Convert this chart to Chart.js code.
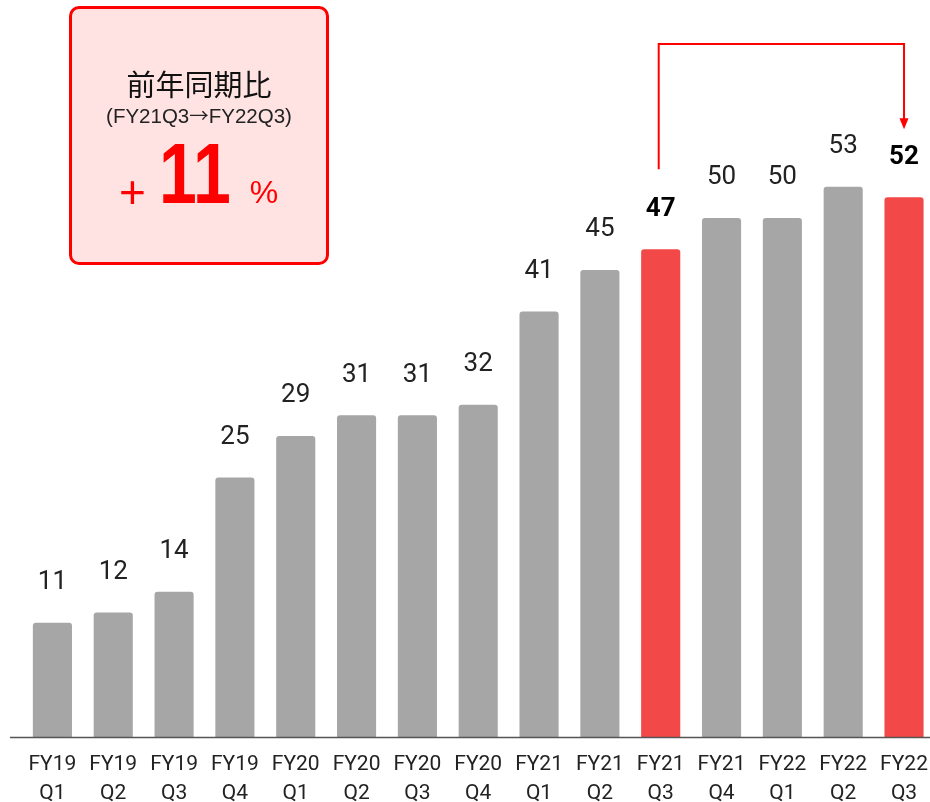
<!DOCTYPE html>
<html>
<head>
<meta charset="utf-8">
<script src="https://cdn.jsdelivr.net/npm/chart.js@4.4.0/dist/chart.umd.min.js"></script>
<style>
  html, body { margin: 0; padding: 0; background: #fff; overflow: hidden; }
  #wrap { position: relative; width: 930px; height: 802px; overflow: hidden; }
  #chart { position: absolute; left: 0; top: 0; }
  .yoy {
    position: absolute; left: 69px; top: 6px; width: 254px; height: 253px;
    border: 3px solid #ff0000; border-radius: 10px; background: #ffe3e3;
    font-family: "Liberation Sans", Arial, sans-serif; text-align: center;
  }
  .yoy .title {
    position: absolute; left: 0; right: 0; top: 59px;
    font-family: "Noto Sans CJK JP", sans-serif; font-size: 29px; line-height: 30px; color: #111;
  }
  .yoy .span { position: absolute; left: 0; right: 0; top: 95px; font-size: 20.5px; line-height: 22px; color: #222; }
  .yoy .span .arr { font-family: "Noto Sans CJK JP", sans-serif; font-size: 19.5px; }
  .yoy .big {
    position: absolute; left: 0; top: 119px; text-align: left; white-space: nowrap;
    font-size: 86px; line-height: 90px; color: #ff0000;
  }
  .yoy .plus { font-size: 46px; margin-left: 47px; position: relative; top: 5px; }
  .yoy .num {
    display: inline-block; font-weight: bold; margin-left: 13px; margin-right: -20px;
    transform: scaleX(0.79); transform-origin: left bottom;
  }
  .yoy .pct { font-size: 32px; margin-left: 20px; }
</style>
</head>
<body>
<div id="wrap">
  <canvas id="chart" width="941" height="802"></canvas>
  <div class="yoy">
    <div class="title">前年同期比</div>
    <div class="span">(FY21Q3<span class="arr">→</span>FY22Q3)</div>
    <div class="big"><span class="plus">+</span><span class="num">11</span><span class="pct">%</span></div>
  </div>
</div>
<script>
// ---------- Data ----------
const FISCAL_YEARS = ['FY19', 'FY19', 'FY19', 'FY19', 'FY20', 'FY20', 'FY20', 'FY20',
  'FY21', 'FY21', 'FY21', 'FY21', 'FY22', 'FY22', 'FY22'];
const QUARTERS = ['Q1', 'Q2', 'Q3', 'Q4', 'Q1', 'Q2', 'Q3', 'Q4',
  'Q1', 'Q2', 'Q3', 'Q4', 'Q1', 'Q2', 'Q3'];
const VALUES = [11, 12, 14, 25, 29, 31, 31, 32, 41, 45, 47, 50, 50, 53, 52];
const HIGHLIGHT = [10, 14]; // FY21Q3 and FY22Q3, compared year over year

const GRAY = '#a6a6a6';
const RED = '#f34848';

const labels = FISCAL_YEARS.map((fy, i) => [fy, QUARTERS[i]]);
const colors = VALUES.map((_, i) => HIGHLIGHT.includes(i) ? RED : GRAY);

// value labels above each bar
const valueLabels = {
  id: 'valueLabels',
  afterDatasetsDraw(chart) {
    const { ctx } = chart;
    const meta = chart.getDatasetMeta(0);
    ctx.save();
    ctx.textAlign = 'center';
    ctx.textBaseline = 'middle';
    meta.data.forEach((bar, i) => {
      const hi = HIGHLIGHT.includes(i);
      ctx.font = (hi ? 'bold ' : '') + '26px Roboto';
      ctx.fillStyle = hi ? '#000' : '#222';
      ctx.fillText(String(VALUES[i]), bar.x, bar.y - 40);
    });
    ctx.restore();
  }
};

// baseline and the elbow arrow linking the two compared quarters
const decorations = {
  id: 'decorations',
  afterDraw(chart) {
    const { ctx, chartArea } = chart;
    const meta = chart.getDatasetMeta(0);
    const from = meta.data[HIGHLIGHT[0]];
    const to = meta.data[HIGHLIGHT[1]];
    ctx.save();
    ctx.strokeStyle = '#555';
    ctx.lineWidth = 1.5;
    ctx.beginPath();
    ctx.moveTo(10, chartArea.bottom + 0.5);
    ctx.lineTo(chart.width, chartArea.bottom + 0.5);
    ctx.stroke();

    const x1 = from.x - 2, x2 = to.x;
    const y0 = from.y - 80, yTop = chartArea.top + 44, yEnd = to.y - 68;
    ctx.strokeStyle = '#ff0000';
    ctx.lineWidth = 2;
    ctx.beginPath();
    ctx.moveTo(x1, y0);
    ctx.lineTo(x1, yTop);
    ctx.lineTo(x2, yTop);
    ctx.lineTo(x2, yEnd - 8);
    ctx.stroke();
    ctx.fillStyle = '#ff0000';
    ctx.beginPath();
    ctx.moveTo(x2 - 4.5, yEnd - 11);
    ctx.lineTo(x2 + 4.5, yEnd - 11);
    ctx.lineTo(x2, yEnd);
    ctx.closePath();
    ctx.fill();
    ctx.restore();
  }
};

new Chart(document.getElementById('chart'), {
  type: 'bar',
  data: {
    labels,
    datasets: [{
      data: VALUES,
      backgroundColor: colors,
      borderRadius: { topLeft: 3, topRight: 3 },
      borderSkipped: 'bottom',
      barPercentage: 0.643,
      categoryPercentage: 1
    }]
  },
  options: {
    responsive: false,
    animation: false,
    layout: { padding: { left: 22, right: 2, top: 0, bottom: 0 } },
    plugins: { legend: { display: false }, tooltip: { enabled: false } },
    scales: {
      x: {
        grid: { display: false, drawTicks: false },
        border: { display: false },
        ticks: {
          padding: 13,
          color: '#222',
          font: { family: 'Roboto', size: 21, lineHeight: 1.38 },
          maxRotation: 0,
          autoSkip: false
        },
        afterFit(scale) { scale.height = 65; }
      },
      y: { display: false, min: 0, max: 71 }
    }
  },
  plugins: [valueLabels, decorations]
});
</script>
</body>
</html>
